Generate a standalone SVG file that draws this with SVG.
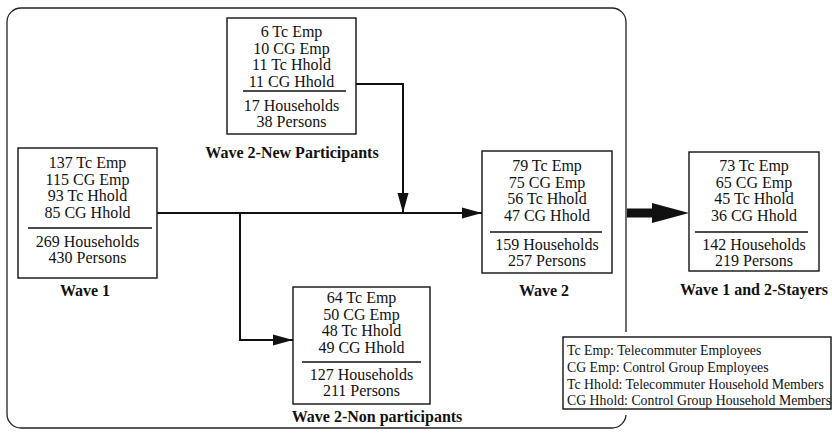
<svg xmlns="http://www.w3.org/2000/svg" width="832" height="439" viewBox="0 0 832 439">
<style>
.bg{fill:#fff}
.frame{fill:none;stroke:#222;stroke-width:1.3}
.box{fill:#fff;stroke:#111;stroke-width:1.4}
.div{stroke:#111;stroke-width:1.4}
.t{font-family:"Liberation Serif","Times New Roman",serif;font-size:16px;fill:#111;text-anchor:middle}
.lbl{font-family:"Liberation Serif","Times New Roman",serif;font-size:16px;font-weight:bold;fill:#111;text-anchor:middle}
.lg{font-family:"Liberation Serif","Times New Roman",serif;font-size:13.8px;fill:#111}
.con{fill:none;stroke:#111;stroke-width:2}
</style>
<defs>
<marker id="ah" markerUnits="userSpaceOnUse" markerWidth="20" markerHeight="12" refX="20" refY="6" orient="auto">
<path d="M0,0.5 L20,6 L0,11.5 Z" fill="#111"/>
</marker>
</defs>
<rect class="bg" width="832" height="439"/>
<rect id="frame" class="frame" x="7" y="8" width="619" height="420" rx="14"/>

<g id="connectors">
<path class="con" d="M157,213 H482" marker-end="url(#ah)"/>
<path class="con" d="M356,84 H403 V213" marker-end="url(#ah)"/>
<path class="con" d="M240,213 V340 H293" marker-end="url(#ah)"/>
<path d="M627,208.5 H652 V203 L689,213 L652,223 V217.5 H627 Z" fill="#111"/>
</g>

<g id="wave1">
<rect class="box" x="18" y="148" width="139" height="130"/>
<text class="t" x="87.5" y="168">137 Tc Emp</text>
<text class="t" x="87.5" y="184.5">115 CG Emp</text>
<text class="t" x="87.5" y="201">93 Tc Hhold</text>
<text class="t" x="87.5" y="217.5">85 CG Hhold</text>
<line class="div" x1="28" y1="228" x2="152" y2="228"/>
<text class="t" x="87.5" y="247">269 Households</text>
<text class="t" x="87.5" y="263">430 Persons</text>
<text class="lbl" x="85" y="296">Wave 1</text>
</g>

<g id="newparticipants">
<rect class="box" x="227" y="18" width="129" height="116"/>
<text class="t" x="291.5" y="37">6 Tc Emp</text>
<text class="t" x="291.5" y="53.5">10 CG Emp</text>
<text class="t" x="291.5" y="70">11 Tc Hhold</text>
<text class="t" x="291.5" y="86.5">11 CG Hhold</text>
<line class="div" x1="243" y1="91" x2="346" y2="91"/>
<text class="t" x="291.5" y="111">17 Households</text>
<text class="t" x="291.5" y="127">38 Persons</text>
<text class="lbl" x="292" y="158">Wave 2-New Participants</text>
</g>

<g id="wave2">
<rect class="box" x="482" y="151" width="130" height="122"/>
<text class="t" x="547" y="171">79 Tc Emp</text>
<text class="t" x="547" y="187.5">75 CG Emp</text>
<text class="t" x="547" y="204">56 Tc Hhold</text>
<text class="t" x="547" y="220.5">47 CG Hhold</text>
<line class="div" x1="490" y1="232" x2="602" y2="232"/>
<text class="t" x="547" y="250">159 Households</text>
<text class="t" x="547" y="266">257 Persons</text>
<text class="lbl" x="544" y="296">Wave 2</text>
</g>

<g id="nonparticipants">
<rect class="box" x="293" y="287" width="137" height="117"/>
<text class="t" x="361.5" y="303">64 Tc Emp</text>
<text class="t" x="361.5" y="319.5">50 CG Emp</text>
<text class="t" x="361.5" y="336">48 Tc Hhold</text>
<text class="t" x="361.5" y="352.5">49 CG Hhold</text>
<line class="div" x1="302" y1="362" x2="421" y2="362"/>
<text class="t" x="361.5" y="380">127 Households</text>
<text class="t" x="361.5" y="396">211 Persons</text>
<text class="lbl" x="377" y="422">Wave 2-Non participants</text>
</g>

<g id="stayers">
<rect class="box" x="689" y="152" width="130" height="119"/>
<text class="t" x="754" y="171">73 Tc Emp</text>
<text class="t" x="754" y="187.5">65 CG Emp</text>
<text class="t" x="754" y="204">45 Tc Hhold</text>
<text class="t" x="754" y="220.5">36 CG Hhold</text>
<line class="div" x1="695" y1="232" x2="808" y2="232"/>
<text class="t" x="754" y="250">142 Households</text>
<text class="t" x="754" y="266">219 Persons</text>
<text class="lbl" x="754" y="295">Wave 1 and 2-Stayers</text>
</g>

<g id="legend">
<rect x="556" y="332" width="276" height="83" fill="#fff"/>
<rect class="box" x="563" y="337" width="268" height="72"/>
<text class="lg" x="567" y="355">Tc Emp: Telecommuter Employees</text>
<text class="lg" x="567" y="372">CG Emp: Control Group Employees</text>
<text class="lg" x="567" y="389">Tc Hhold: Telecommuter Household Members</text>
<text class="lg" x="567" y="405">CG Hhold: Control Group Household Members</text>
</g>
</svg>
